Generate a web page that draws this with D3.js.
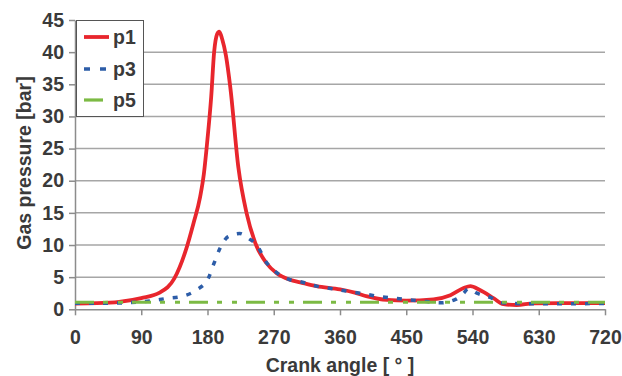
<!DOCTYPE html>
<html>
<head>
<meta charset="utf-8">
<script src="https://cdn.jsdelivr.net/npm/d3@7"></script>
<style>
  html, body { margin: 0; padding: 0; background: #fff; }
  svg { display: block; }
  text { font-family: "Liberation Sans", Arial, sans-serif; font-weight: bold; fill: #3a3a3a; }
</style>
</head>
<body>
<svg id="chart" width="622" height="376"></svg>
<script>
// ---- data ----
const p1Angle = [0, 30, 60, 90, 115, 135, 150, 161, 170, 175, 180, 185, 189, 193, 196, 200, 205, 211, 222, 233, 245, 260, 274, 292, 306, 328, 360, 380, 397, 424, 450, 487, 510, 528, 537, 550, 569, 582, 600, 623, 660, 720];
const p1Value = [0.9, 0.95, 1.15, 1.75, 2.6, 4.8, 9.0, 13.4, 17.5, 21, 26.5, 33, 40, 42.8, 43.2, 42, 39.5, 34.5, 22, 15, 10.3, 7.2, 5.6, 4.6, 4.2, 3.6, 3.1, 2.6, 2.0, 1.45, 1.35, 1.55, 2.2, 3.3, 3.6, 3.0, 1.7, 0.8, 0.67, 0.93, 0.95, 0.95];

const p3Angle = [0, 30, 66, 102, 125, 145, 165, 181, 188, 197, 208, 224, 236, 247, 260, 274, 292, 306, 328, 350, 374, 392, 415, 435, 455, 478, 496, 517, 528, 534, 546, 564, 580, 620, 720];
const p3Value = [0.95, 0.95, 1.0, 1.3, 1.7, 2.0, 3.0, 4.8, 6.9, 9.5, 11.3, 11.8, 11.0, 10.0, 7.3, 5.7, 4.6, 4.3, 3.6, 3.2, 2.75, 2.4, 1.96, 1.7, 1.45, 1.2, 1.0, 1.55, 2.5, 3.2, 2.5, 1.85, 1.0, 0.85, 0.9];

const p5Angle = [0, 90, 180, 270, 360, 450, 540, 630, 720];
const p5Value = [1.1, 1.1, 1.1, 1.1, 1.1, 1.1, 1.1, 1.1, 1.1];

const xTicks = [0, 90, 180, 270, 360, 450, 540, 630, 720];
const yTicks = [0, 5, 10, 15, 20, 25, 30, 35, 40, 45];
const gridTicks = [5, 10, 15, 20, 25, 30, 35, 40];
const seriesNames = ["p1", "p3", "p5"];

// ---- layout ----
const FS = 19.5;
const svg = d3.select("#chart");
const x = d3.scaleLinear().domain([0, 720]).range([75, 605]);
const y = d3.scaleLinear().domain([0, 45]).range([309.3, 20]);

// gridlines
svg.append("g").selectAll("line").data(gridTicks).join("line")
  .attr("x1", x(0)).attr("x2", x(720))
  .attr("y1", d => y(d)).attr("y2", d => y(d))
  .attr("stroke", "#a6a6a6").attr("stroke-width", 1.5);

// axes
const yAxis = svg.append("g").attr("transform", `translate(${x(0)},0)`)
  .call(d3.axisLeft(y).tickValues(yTicks).tickSize(6).tickSizeOuter(0).tickPadding(5));
const xAxis = svg.append("g").attr("transform", `translate(0,${y(0)})`)
  .call(d3.axisBottom(x).tickValues(xTicks).tickSize(6).tickSizeOuter(0).tickPadding(15));
[xAxis, yAxis].forEach(a => {
  a.select(".domain").attr("stroke", "#8c8c8c").attr("stroke-width", 1.5);
  a.selectAll(".tick line").attr("stroke", "#8c8c8c").attr("stroke-width", 1.5);
  a.selectAll(".tick text").attr("font-size", FS).attr("font-family", "Liberation Sans, Arial, sans-serif")
    .attr("font-weight", "bold").attr("fill", "#3a3a3a");
});

// lines
const line = d3.line().x(d => x(d[0])).y(d => y(d[1])).curve(d3.curveMonotoneX);
const p1 = p1Angle.map((a, i) => [a, p1Value[i]]);
const p3 = p3Angle.map((a, i) => [a, p3Value[i]]);
const p5 = p5Angle.map((a, i) => [a, p5Value[i]]);

const styles = {
  p1: { color: "#e8262d", width: 3.8, dash: null },
  p3: { color: "#2d5da8", width: 3.5, dash: "5,9" },
  p5: { color: "#7cba44", width: 3.2, dash: "19,9,5,10,5,9" }
};

svg.append("path").datum(p1).attr("d", line).attr("fill", "none")
  .attr("stroke", styles.p1.color).attr("stroke-width", styles.p1.width);
svg.append("path").datum(p3).attr("d", line).attr("fill", "none")
  .attr("stroke", styles.p3.color).attr("stroke-width", styles.p3.width).attr("stroke-dasharray", styles.p3.dash);
svg.append("path").datum(p5).attr("d", line).attr("fill", "none")
  .attr("stroke", styles.p5.color).attr("stroke-width", styles.p5.width).attr("stroke-dasharray", styles.p5.dash);

// axis titles
svg.append("text").attr("x", 340).attr("y", 372).attr("text-anchor", "middle")
  .attr("font-size", FS).text("Crank angle [ ° ]");
svg.append("text").attr("transform", "translate(30.5,163) rotate(-90)").attr("text-anchor", "middle")
  .attr("font-size", FS).text("Gas pressure [bar]");

// legend
const lg = svg.append("g");
lg.append("rect").attr("x", 76.5).attr("y", 20.5).attr("width", 67).attr("height", 96)
  .attr("fill", "#fff").attr("stroke", "#555").attr("stroke-width", 1);
const legendY = [37, 69, 100];
const legendDash = { p1: null, p3: "6,10", p5: "19,9,5,10,5,9" };
seriesNames.forEach((n, i) => {
  lg.append("line").attr("x1", 84).attr("x2", 109).attr("y1", legendY[i]).attr("y2", legendY[i])
    .attr("stroke", styles[n].color).attr("stroke-width", styles[n].width)
    .attr("stroke-dasharray", legendDash[n]);
  lg.append("text").attr("x", 113).attr("y", legendY[i]).attr("dy", "0.35em")
    .attr("font-size", FS).text(n);
});
</script>
</body>
</html>
